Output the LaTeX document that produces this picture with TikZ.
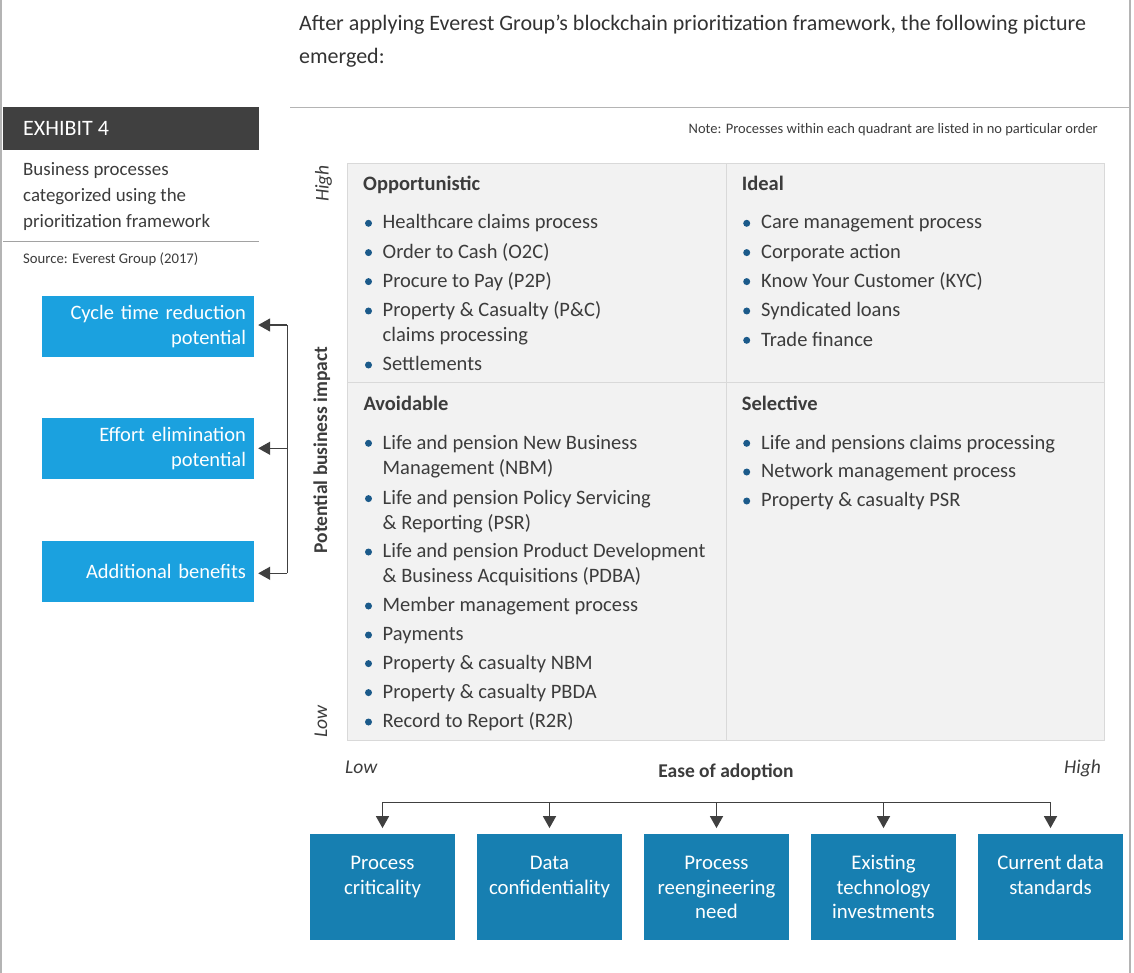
\documentclass[tikz,border=0pt]{standalone}
\usepackage{fontspec}
\setmainfont{Carlito}
\usetikzlibrary{arrows.meta}
\definecolor{txt}{HTML}{3C3C3C}
\definecolor{darkbox}{HTML}{404040}
\definecolor{lblue}{HTML}{1BA1DF}
\definecolor{dblue}{HTML}{177FB1}
\definecolor{bulc}{HTML}{1B5A8A}
\definecolor{qfill}{HTML}{F2F2F2}
\definecolor{qline}{HTML}{D9D9D9}
\definecolor{framec}{HTML}{B4B4B4}
\definecolor{arrc}{HTML}{404040}
\tikzset{
  x=1pt, y=-1pt,
  itemtxt/.style={anchor=base west, inner sep=0pt, text=txt, font=\fontsize{20.5}{25}\selectfont},
  qtitle/.style={anchor=base west, inner sep=0pt, text=txt, font=\bfseries\fontsize{20.5}{25}\selectfont},
  bul/.style={fill=bulc},
  lbox/.style={fill=lblue, draw=none, minimum width=212pt, minimum height=60.5pt, text width=196pt, align=right, inner xsep=8pt, text=white, font=\fontsize{20.5}{25}\selectfont},
  dbox/.style={fill=dblue, draw=none, minimum width=145pt, minimum height=106pt, inner sep=0pt},
  dtxt/.style={anchor=base, inner sep=0pt, text=white, font=\fontsize{20.8}{24.7}\selectfont},
  conn/.style={draw=arrc, line width=1.6pt},
  arr/.style={conn, -{Triangle[length=12pt,width=13pt]}},
  framel/.style={draw=framec, line width=1.3pt},
}
\begin{document}
\begin{tikzpicture}
\useasboundingbox (0,0) rectangle (1134,973);
\fill[white] (0,0) rectangle (1134,973);
% frame
\draw[framel] (1,0) coordinate (fl1) -- (1,973) coordinate (fl2);
\draw[framel] (1130,0) coordinate (fr1) -- (1130,973) coordinate (fr2);
\draw[draw=framec, line width=1pt] (290,107.3) coordinate (hl1) -- (1130,107.3) coordinate (hl2);

% top sentence
\node[anchor=base west, inner sep=0pt, text=txt!85!black, font=\fontsize{22}{33}\selectfont] (intro) at (299,30.5)
  {\parbox[t]{830pt}{After applying Everest Group’s blockchain prioritization framework, the following picture\\emerged:}};

% exhibit
\fill[darkbox] (3,107) rectangle (259,149.7);
\node[anchor=base west, inner sep=0pt, text=white, font=\fontsize{22}{24}\selectfont] (exh) at (23,136) {EXHIBIT 4};
\node[anchor=base west, inner sep=0pt, text=txt, font=\fontsize{18.9}{26}\selectfont] (sub) at (23,176)
  {\parbox[t]{230pt}{Business processes\\categorized using the\\prioritization framework}};
\draw[draw=framec!90!black, line width=1pt] (3,242) coordinate (sl1) -- (259,242) coordinate (sl2);
\node[anchor=base west, inner sep=0pt, text=txt, font=\fontsize{14.7}{16}\selectfont] (src) at (23,264) {Source: Everest Group (2017)};

% note
\node[anchor=base east, inner sep=0pt, text=txt, font=\fontsize{14.5}{16}\selectfont] (note) at (1098,133.3) {Note: Processes within each quadrant are listed in no particular order};

% quadrant grid
\draw[draw=qline, fill=qfill, line width=1pt] (347.3,164) rectangle (1104.3,740);
\draw[draw=qline, line width=1pt] (726,164) coordinate (vq1) -- (726,740) coordinate (vq2);
\draw[draw=qline, line width=1pt] (347.3,382.7) coordinate (hq1) -- (1104.3,382.7) coordinate (hq2);

% quadrant titles
\node[qtitle] (topp) at (363,190.7) {Opportunistic};
\node[qtitle] (tide) at (741.7,190.7) {Ideal};
\node[qtitle] (tavo) at (363.3,410.4) {Avoidable};
\node[qtitle] (tsel) at (741.7,410.4) {Selective};

% Opportunistic
\foreach \yy/\tt [count=\i] in {229/{Healthcare claims process},258.3/{Order to Cash (O2C)},287.3/{Procure to Pay (P2P)},316.7/{Property \& Casualty (P\&C)\\claims processing},370.7/{Settlements}}{
  \fill[bul] (368.5,\yy-5.7) circle (3.5pt);
  \node[itemtxt] (opp\i) at (382.5,\yy) {\parbox[t]{330pt}{\raggedright\tt}};
}
% Ideal
\foreach \yy/\tt [count=\i] in {229/{Care management process},258.3/{Corporate action},287.3/{Know Your Customer (KYC)},316.7/{Syndicated loans},346/{Trade finance}}{
  \fill[bul] (746.7,\yy-5.7) circle (3.5pt);
  \node[itemtxt] (ide\i) at (761,\yy) {\parbox[t]{330pt}{\raggedright\tt}};
}
% Avoidable
\foreach \yy/\tt [count=\i] in {449/{Life and pension New Business\\Management (NBM)},504.3/{Life and pension Policy Servicing\\\& Reporting (PSR)},557.7/{Life and pension Product Development\\\& Business Acquisitions (PDBA)},611.7/{Member management process},640.7/{Payments},669.3/{Property \& casualty NBM},698.3/{Property \& casualty PBDA},727.7/{Record to Report (R2R)}}{
  \fill[bul] (368.5,\yy-5.7) circle (3.5pt);
  \node[itemtxt] (avo\i) at (382.5,\yy) {\parbox[t]{340pt}{\raggedright\tt}};
}
% Selective
\foreach \yy/\tt [count=\i] in {449/{Life and pensions claims processing},477.7/{Network management process},506.7/{Property \& casualty PSR}}{
  \fill[bul] (746.7,\yy-5.7) circle (3.5pt);
  \node[itemtxt] (sel\i) at (761,\yy) {\parbox[t]{330pt}{\raggedright\tt}};
}

% axis labels
\node[rotate=90, anchor=base, inner sep=0pt, text=txt, font=\bfseries\fontsize{19.5}{24}\selectfont] (pbi) at (327,450) {Potential business impact};
\node[rotate=90, anchor=base, inner sep=0pt, text=txt, font=\itshape\fontsize{19.5}{24}\selectfont] (vhigh) at (328.5,183.5) {High};
\node[rotate=90, anchor=base, inner sep=0pt, text=txt, font=\itshape\fontsize{19.5}{24}\selectfont] (vlow) at (327,721.5) {Low};
\node[anchor=base west, inner sep=0pt, text=txt, font=\itshape\fontsize{19.5}{24}\selectfont] (hlow) at (345,773) {Low};
\node[anchor=base east, inner sep=0pt, text=txt, font=\itshape\fontsize{19.5}{24}\selectfont] (hhigh) at (1101,773) {High};
\node[anchor=base, inner sep=0pt, text=txt, font=\bfseries\fontsize{19.5}{24}\selectfont] (ease) at (726,777.7) {Ease of adoption};

% left blue boxes
\node[lbox] (lb1) at (148,326.3) {Cycle time reduction\\potential};
\node[lbox] (lb2) at (148,448.5) {Effort elimination\\potential};
\node[lbox] (lb3) at (148,571.3) {Additional benefits};
\coordinate (j1) at (287.3,325);
\coordinate (j2) at (287.3,448.3);
\coordinate (j3) at (287.3,573.3);
\draw[conn] (j1) -- (j3);
\draw[arr, shorten >=4pt] (j1) -- (j1 -| lb1.east);
\draw[arr, shorten >=4pt] (j2) -- (j2 -| lb2.east);
\draw[arr, shorten >=4pt] (j3) -- (j3 -| lb3.east);

% bottom boxes
\foreach \xx/\tt [count=\i] in {382.5/{Process\\criticality},549.5/{Data\\confidentiality},716.5/{Process\\reengineering\\need},883.5/{Existing\\technology\\investments},1050.5/{Current data\\standards}}{
  \node[dbox] (b\i) at (\xx,887) {};
  \node[dtxt] (bt\i) at (\xx,869.3) {\parbox[t]{140pt}{\centering\tt}};
  \coordinate (t\i) at (\xx,802.3);
  \draw[arr, shorten >=5.7pt] (t\i) -- (b\i.north);
}
\draw[conn] (t1) -- (t5);
\end{tikzpicture}
\end{document}
